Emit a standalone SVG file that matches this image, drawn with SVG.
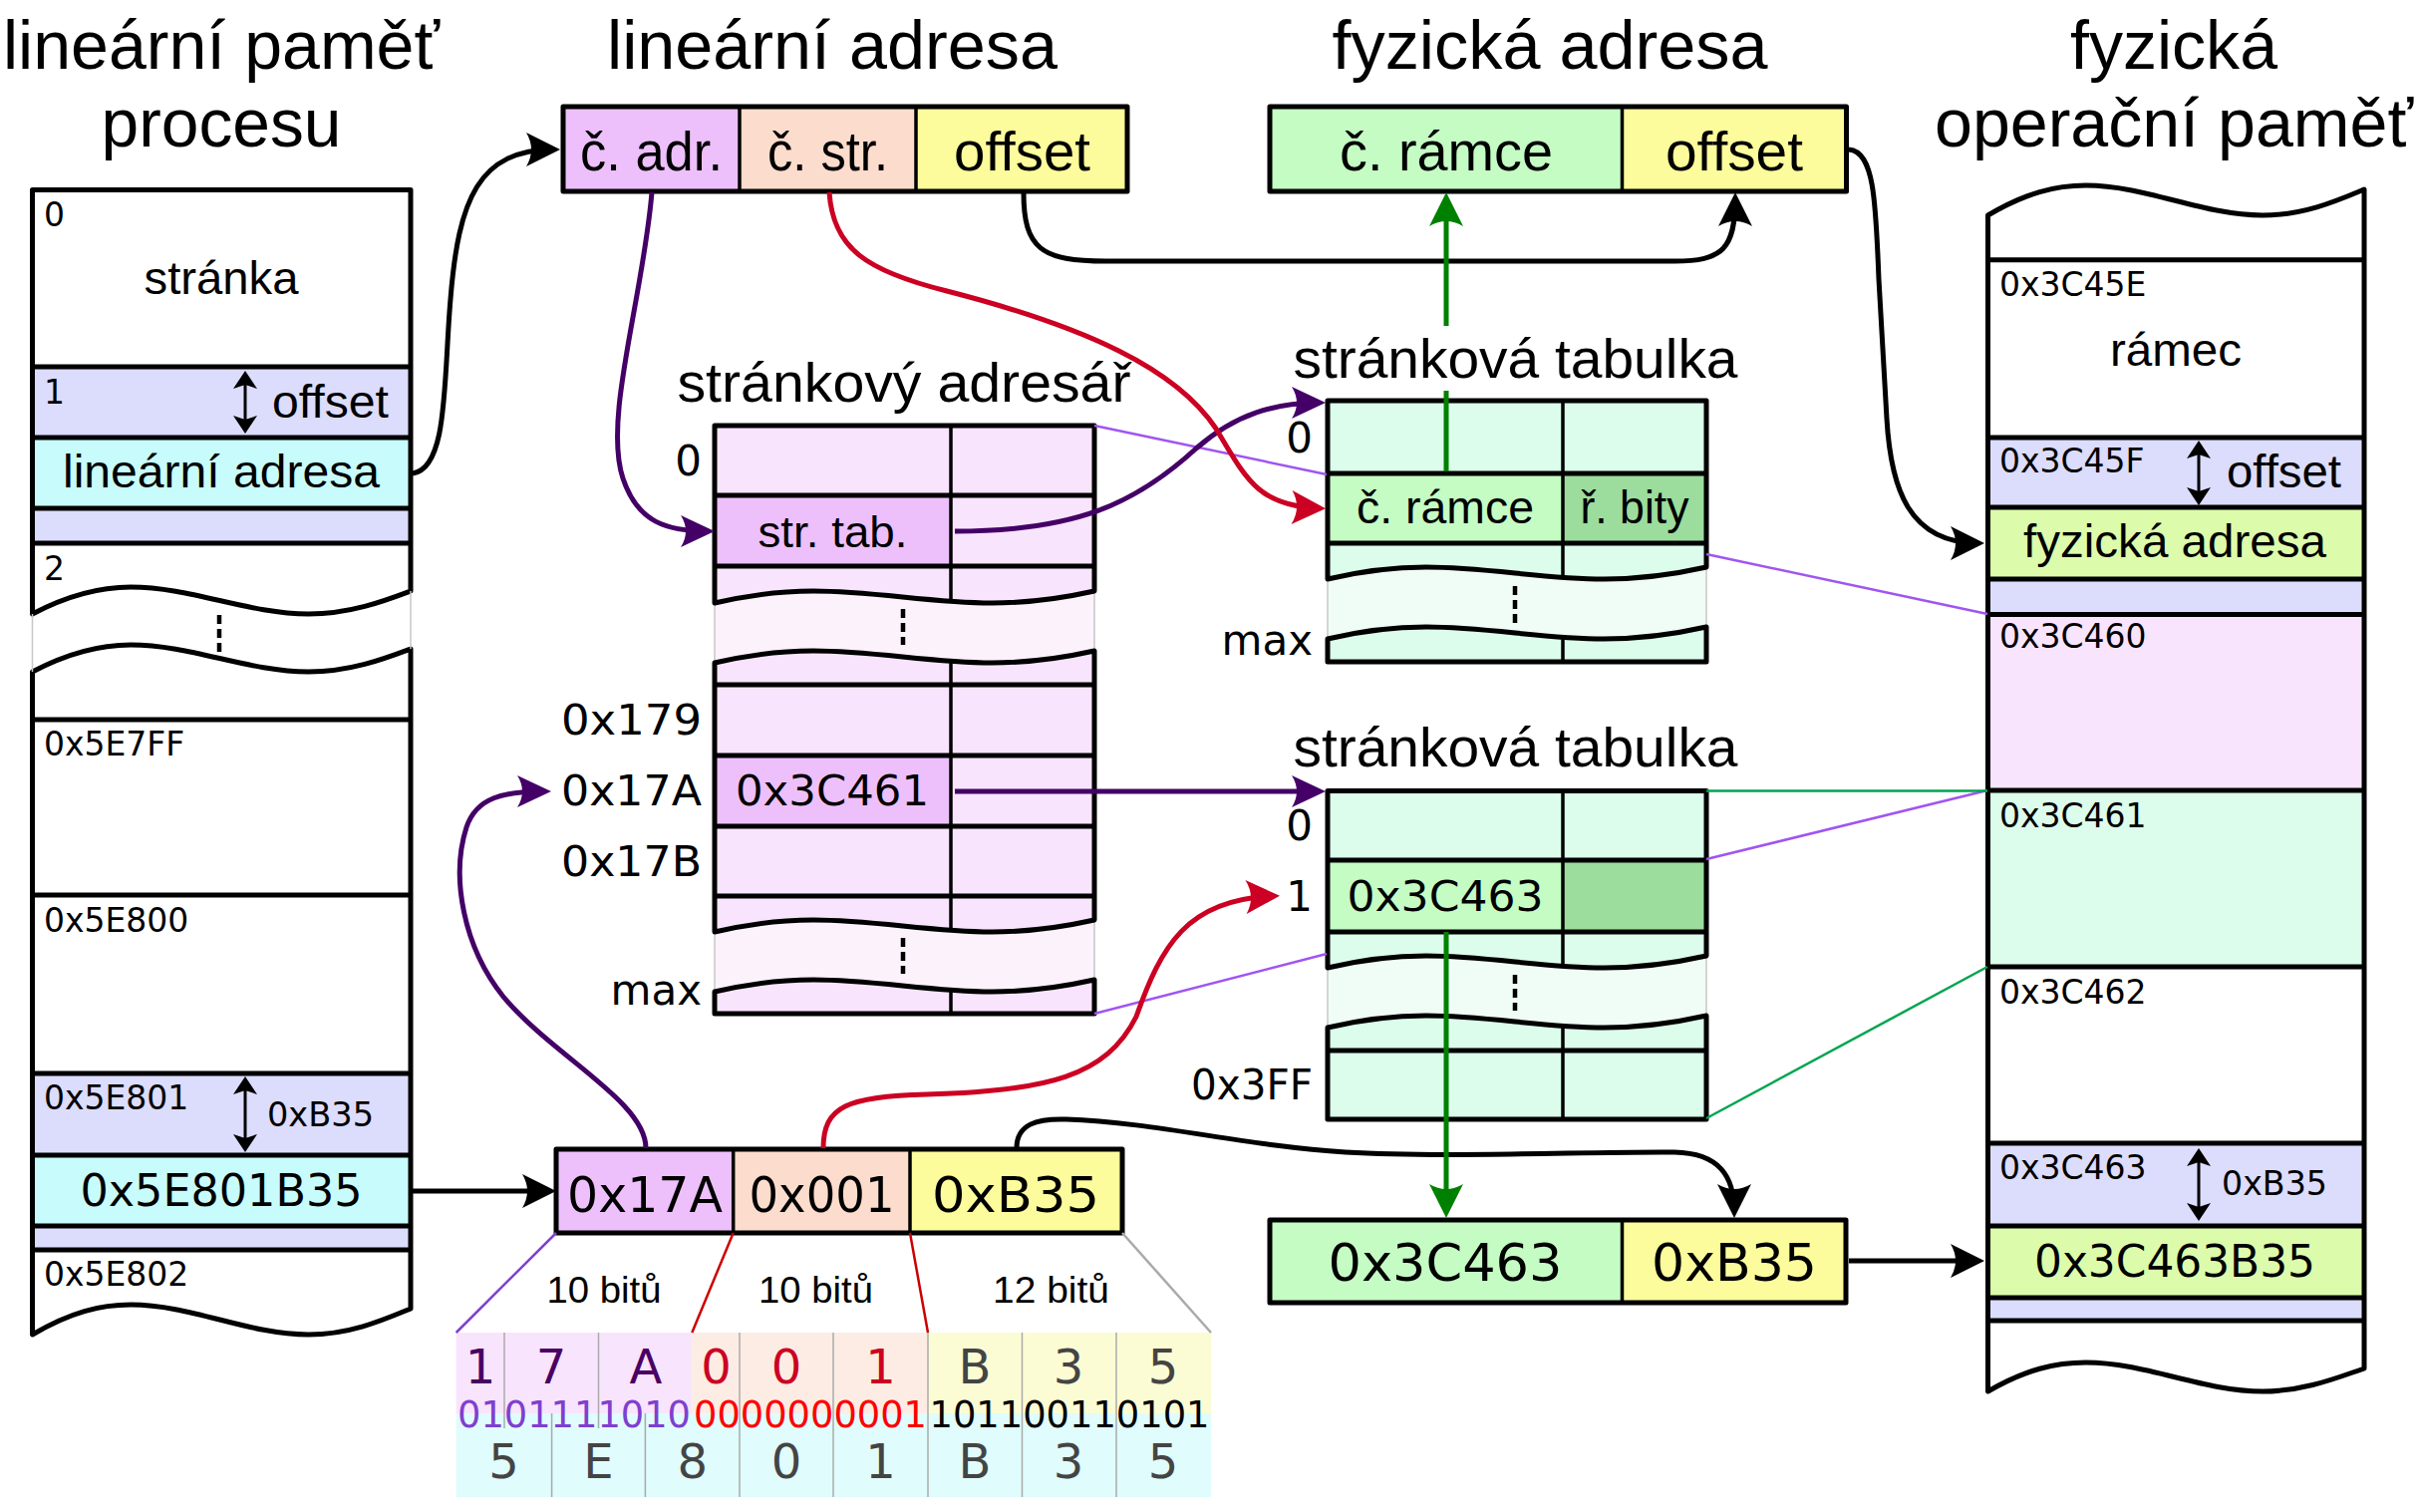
<svg xmlns="http://www.w3.org/2000/svg" width="2429" height="1517" viewBox="0 0 2429 1517">
<defs>
<style>
.s{font-family:"Liberation Sans",Arial,sans-serif;fill:#000}
.d{font-family:"DejaVu Sans",Verdana,sans-serif;fill:#000}
.ttl{font-size:68px;text-anchor:middle}
.sub{font-size:56px;text-anchor:middle}
.c{text-anchor:middle}
.e{text-anchor:end}
.lbl{font-size:33px}
.idx{font-size:42px}
.box{fill:none;stroke:#000;stroke-width:5;stroke-linejoin:round}
.row{stroke:#000;stroke-width:5;fill:none}
.dv{stroke:#000;stroke-width:3.5;fill:none}
.gs{stroke:#c8c8c8;stroke-width:1.5;fill:none}
.dots{stroke:#000;stroke-width:4.5;stroke-dasharray:9 5;fill:none}
.cn{fill:none;stroke-width:5}
.thin{fill:none;stroke-width:2.5}
.sep{stroke:#aaa;stroke-width:1.5;fill:none}
</style>
<marker id="mk" markerUnits="userSpaceOnUse" orient="auto" overflow="visible" markerWidth="40" markerHeight="40"><path d="M6 0 L-28 -17 Q-18 0 -28 17 Z" fill="#000"/></marker>
<marker id="mp" markerUnits="userSpaceOnUse" orient="auto" overflow="visible" markerWidth="40" markerHeight="40"><path d="M6 0 L-28 -16 Q-18 0 -28 16 Z" fill="#440066"/></marker>
<marker id="mr" markerUnits="userSpaceOnUse" orient="auto" overflow="visible" markerWidth="40" markerHeight="40"><path d="M6 0 L-28 -17 Q-18 0 -28 17 Z" fill="#cc0022"/></marker>
<marker id="mg" markerUnits="userSpaceOnUse" orient="auto" overflow="visible" markerWidth="40" markerHeight="40"><path d="M6 0 L-28 -17 Q-18 0 -28 17 Z" fill="#008000"/></marker>
</defs>
<rect width="2429" height="1517" fill="#fff"/>

<!-- titles -->
<g id="title-linear-memory">
<text class="s ttl" x="222" y="69" textLength="438" lengthAdjust="spacingAndGlyphs">lineární paměť</text>
<text class="s ttl" x="222" y="147" textLength="241" lengthAdjust="spacingAndGlyphs">procesu</text>
</g>
<g id="title-linear-address"><text class="s ttl" x="835" y="69" textLength="452" lengthAdjust="spacingAndGlyphs">lineární adresa</text></g>
<g id="title-physical-address"><text class="s ttl" x="1555" y="69" textLength="437" lengthAdjust="spacingAndGlyphs">fyzická adresa</text></g>
<g id="title-physical-memory">
<text class="s ttl" x="2181" y="69" textLength="208" lengthAdjust="spacingAndGlyphs">fyzická</text>
<text class="s ttl" x="2181" y="147" textLength="480" lengthAdjust="spacingAndGlyphs">operační paměť</text>
</g>

<!-- linear memory of process -->
<g id="linear-memory">
<path fill="#fff" d="M32.5 190.5 L412 190.5 L412 593 C385.4 603 351.3 616 309.5 616 C248.8 616 191.9 589 131.2 589 C100.8 589 70.5 596 32.5 616 Z"/>
<path fill="#fff" d="M32.5 674 C70.5 654 100.8 647 131.2 647 C191.9 647 248.8 674 309.5 674 C351.3 674 385.4 661 412 651 L412 1313 C385.4 1324 351.3 1339 309.5 1339 C248.8 1339 191.9 1309 131.2 1309 C100.8 1309 70.5 1316.5 32.5 1339 Z"/>
<rect x="32.5" y="368" width="379.5" height="71" fill="#dcdcfc"/>
<rect x="32.5" y="439" width="379.5" height="71" fill="#c8fcfc"/>
<rect x="32.5" y="510" width="379.5" height="35" fill="#dcdcfc"/>
<rect x="32.5" y="1077" width="379.5" height="82" fill="#dcdcfc"/>
<rect x="32.5" y="1159" width="379.5" height="71" fill="#c8fcfc"/>
<rect x="32.5" y="1230" width="379.5" height="24" fill="#dcdcfc"/>
<path class="row" d="M32.5 368H412M32.5 439H412M32.5 510H412M32.5 545H412M32.5 722H412M32.5 898H412M32.5 1077H412M32.5 1159H412M32.5 1230H412M32.5 1254H412"/>
<path class="box" d="M32.5 190.5 L412 190.5 L412 593 C385.4 603 351.3 616 309.5 616 C248.8 616 191.9 589 131.2 589 C100.8 589 70.5 596 32.5 616 Z"/>
<path class="box" d="M32.5 674 C70.5 654 100.8 647 131.2 647 C191.9 647 248.8 674 309.5 674 C351.3 674 385.4 661 412 651 L412 1313 C385.4 1324 351.3 1339 309.5 1339 C248.8 1339 191.9 1309 131.2 1309 C100.8 1309 70.5 1316.5 32.5 1339 Z"/>
<path class="gs" d="M32.5 616V674M412 593V651"/>
<line class="dots" x1="220" y1="617" x2="220" y2="655"/>
<text class="d lbl" x="44" y="227">0</text>
<text class="s c" x="222" y="295" font-size="47" textLength="155" lengthAdjust="spacingAndGlyphs">stránka</text>
<text class="d lbl" x="44" y="405">1</text>
<path d="M246 386V421" stroke="#000" stroke-width="3"/>
<path d="M246 372 L234 390 L246 386 L258 390 Z M246 435 L234 417 L246 421 L258 417 Z"/>
<text class="s" x="273" y="419" font-size="47" textLength="117" lengthAdjust="spacingAndGlyphs">offset</text>
<text class="s c" x="222" y="489" font-size="47" textLength="318" lengthAdjust="spacingAndGlyphs">lineární adresa</text>
<text class="d lbl" x="44" y="582">2</text>
<text class="d lbl" x="44" y="758">0x5E7FF</text>
<text class="d lbl" x="44" y="935">0x5E800</text>
<text class="d lbl" x="44" y="1113">0x5E801</text>
<path d="M246 1094V1142" stroke="#000" stroke-width="3"/>
<path d="M246 1080 L234 1098 L246 1094 L258 1098 Z M246 1156 L234 1138 L246 1142 L258 1138 Z"/>
<text class="d lbl" x="268" y="1130" textLength="107" lengthAdjust="spacingAndGlyphs">0xB35</text>
<text class="d c" x="222" y="1210" font-size="44" textLength="283" lengthAdjust="spacingAndGlyphs">0x5E801B35</text>
<text class="d lbl" x="44" y="1290">0x5E802</text>
</g>

<!-- linear address field names -->
<g id="linear-address-fields">
<rect x="565" y="107" width="177" height="85" fill="#edc0fc"/>
<rect x="742" y="107" width="177" height="85" fill="#fcdccc"/>
<rect x="919" y="107" width="212" height="85" fill="#fcfc9c"/>
<path class="dv" d="M742 107V192M919 107V192"/>
<rect class="box" x="565" y="107" width="566" height="85"/>
<text class="s c" x="653.5" y="171" font-size="55" textLength="143" lengthAdjust="spacingAndGlyphs">č. adr.</text>
<text class="s c" x="830.5" y="171" font-size="55" textLength="121" lengthAdjust="spacingAndGlyphs">č. str.</text>
<text class="s c" x="1025.5" y="171" font-size="55" textLength="137" lengthAdjust="spacingAndGlyphs">offset</text>
</g>

<!-- physical address field names -->
<g id="physical-address-fields">
<rect x="1274" y="107" width="353.5" height="85" fill="#c4fcc4"/>
<rect x="1627.5" y="107" width="225" height="85" fill="#fcfc9c"/>
<path class="dv" d="M1627.5 107V192"/>
<rect class="box" x="1274" y="107" width="578.5" height="85"/>
<text class="s c" x="1451" y="171" font-size="55" textLength="214" lengthAdjust="spacingAndGlyphs">č. rámce</text>
<text class="s c" x="1740" y="171" font-size="55" textLength="138" lengthAdjust="spacingAndGlyphs">offset</text>
</g>

<!-- page directory -->
<g id="page-directory">
<text class="s sub" x="907" y="403" textLength="455" lengthAdjust="spacingAndGlyphs">stránkový adresář</text>
<path fill="#f8e4fc" d="M717 427 L1098 427 L1098 593 C1071.3 599 1037 605 995.1 605 C934.2 605 877 593 816.1 593 C785.6 593 755.1 596 717 605 Z"/>
<path fill="#f8e4fc" d="M717 665 C755.1 656 785.6 653 816.1 653 C877 653 934.2 665 995.1 665 C1037 665 1071.3 659 1098 653 L1098 923 C1071.3 929 1037 935 995.1 935 C934.2 935 877 923 816.1 923 C785.6 923 755.1 926 717 935 Z"/>
<path fill="#f8e4fc" d="M717 995 C755.1 986 785.6 983 816.1 983 C877 983 934.2 995 995.1 995 C1037 995 1071.3 989 1098 983 L1098 1017 L717 1017 Z"/>
<rect x="717" y="497" width="237" height="71" fill="#edc0fc"/>
<rect x="717" y="758" width="237" height="71" fill="#edc0fc"/>
<path class="row" d="M717 497H1098M717 568H1098M717 687H1098M717 758H1098M717 829H1098M717 899H1098"/>
<path class="dv" d="M954 427V1017"/>
<path fill="#fcf2fc" d="M717 605 C755.1 596 785.6 593 816.1 593 C877 593 934.2 605 995.1 605 C1037 605 1071.3 599 1098 593 L1098 653 C1071.3 659 1037 665 995.1 665 C934.2 665 877 653 816.1 653 C785.6 653 755.1 656 717 665 Z"/>
<path fill="#fcf2fc" d="M717 935 C755.1 926 785.6 923 816.1 923 C877 923 934.2 935 995.1 935 C1037 935 1071.3 929 1098 923 L1098 983 C1071.3 989 1037 995 995.1 995 C934.2 995 877 983 816.1 983 C785.6 983 755.1 986 717 995 Z"/>
<path class="gs" d="M717 605V665M1098 593V653M717 935V995M1098 923V983"/>
<path class="box" stroke-width="4.5" d="M717 427 L1098 427 L1098 593 C1071.3 599 1037 605 995.1 605 C934.2 605 877 593 816.1 593 C785.6 593 755.1 596 717 605 Z"/>
<path class="box" stroke-width="4.5" d="M717 665 C755.1 656 785.6 653 816.1 653 C877 653 934.2 665 995.1 665 C1037 665 1071.3 659 1098 653 L1098 923 C1071.3 929 1037 935 995.1 935 C934.2 935 877 923 816.1 923 C785.6 923 755.1 926 717 935 Z"/>
<path class="box" stroke-width="4.5" d="M717 995 C755.1 986 785.6 983 816.1 983 C877 983 934.2 995 995.1 995 C1037 995 1071.3 989 1098 983 L1098 1017 L717 1017 Z"/>
<line class="dots" x1="906" y1="611" x2="906" y2="647"/>
<line class="dots" x1="906" y1="941" x2="906" y2="977"/>
<text class="d idx e" x="704" y="477">0</text>
<text class="d idx e" x="704" y="737" textLength="141" lengthAdjust="spacingAndGlyphs">0x179</text>
<text class="d idx e" x="704" y="808" textLength="141" lengthAdjust="spacingAndGlyphs">0x17A</text>
<text class="d idx e" x="704" y="879" textLength="141" lengthAdjust="spacingAndGlyphs">0x17B</text>
<text class="d idx e" x="704" y="1008">max</text>
<text class="s c" x="835.5" y="549" font-size="44" textLength="150" lengthAdjust="spacingAndGlyphs">str. tab.</text>
<text class="d c" x="835" y="808" font-size="43" textLength="194" lengthAdjust="spacingAndGlyphs">0x3C461</text>
</g>

<!-- page table 1 -->
<g id="page-table-1">
<text class="s sub" x="1520.5" y="379" textLength="446" lengthAdjust="spacingAndGlyphs">stránková tabulka</text>
<path fill="#dcfcec" d="M1332 402 L1712 402 L1712 569 C1685.4 575 1651.2 581 1609.4 581 C1548.6 581 1491.6 569 1430.8 569 C1400.4 569 1370 572 1332 581 Z"/>
<path fill="#dcfcec" d="M1332 641 C1370 632 1400.4 629 1430.8 629 C1491.6 629 1548.6 641 1609.4 641 C1651.2 641 1685.4 635 1712 629 L1712 664 L1332 664 Z"/>
<rect x="1332" y="475" width="236" height="70" fill="#c4fcc4"/>
<rect x="1568" y="475" width="144" height="70" fill="#9cdc9c"/>
<path class="row" d="M1332 475H1712M1332 545H1712"/>
<path class="dv" d="M1568 402V664"/>
<path fill="#f0fcf6" d="M1332 581 C1370 572 1400.4 569 1430.8 569 C1491.6 569 1548.6 581 1609.4 581 C1651.2 581 1685.4 575 1712 569 L1712 629 C1685.4 635 1651.2 641 1609.4 641 C1548.6 641 1491.6 629 1430.8 629 C1400.4 629 1370 632 1332 641 Z"/>
<path class="gs" d="M1332 581V641M1712 569V629"/>
<path class="box" stroke-width="4.5" d="M1332 402 L1712 402 L1712 569 C1685.4 575 1651.2 581 1609.4 581 C1548.6 581 1491.6 569 1430.8 569 C1400.4 569 1370 572 1332 581 Z"/>
<path class="box" stroke-width="4.5" d="M1332 641 C1370 632 1400.4 629 1430.8 629 C1491.6 629 1548.6 641 1609.4 641 C1651.2 641 1685.4 635 1712 629 L1712 664 L1332 664 Z"/>
<line class="dots" x1="1520" y1="588" x2="1520" y2="625"/>
<text class="d idx e" x="1317" y="454">0</text>
<text class="d idx e" x="1317" y="657">max</text>
<text class="s c" x="1450" y="525" font-size="46" textLength="178" lengthAdjust="spacingAndGlyphs">č. rámce</text>
<text class="s c" x="1640" y="525" font-size="46" textLength="109" lengthAdjust="spacingAndGlyphs">ř. bity</text>
</g>

<!-- page table 2 -->
<g id="page-table-2">
<text class="s sub" x="1520.5" y="769" textLength="446" lengthAdjust="spacingAndGlyphs">stránková tabulka</text>
<path fill="#dcfcec" d="M1332 793.5 L1712 793.5 L1712 959 C1685.4 965 1651.2 971 1609.4 971 C1548.6 971 1491.6 959 1430.8 959 C1400.4 959 1370 962 1332 971 Z"/>
<path fill="#dcfcec" d="M1332 1031 C1370 1022 1400.4 1019 1430.8 1019 C1491.6 1019 1548.6 1031 1609.4 1031 C1651.2 1031 1685.4 1025 1712 1019 L1712 1123 L1332 1123 Z"/>
<rect x="1332" y="863" width="236" height="72" fill="#c4fcc4"/>
<rect x="1568" y="863" width="144" height="72" fill="#9cdc9c"/>
<path class="row" d="M1332 863H1712M1332 935H1712M1332 1054H1712"/>
<path class="dv" d="M1568 793.5V1123"/>
<path fill="#f0fcf6" d="M1332 971 C1370 962 1400.4 959 1430.8 959 C1491.6 959 1548.6 971 1609.4 971 C1651.2 971 1685.4 965 1712 959 L1712 1019 C1685.4 1025 1651.2 1031 1609.4 1031 C1548.6 1031 1491.6 1019 1430.8 1019 C1400.4 1019 1370 1022 1332 1031 Z"/>
<path class="gs" d="M1332 971V1031M1712 959V1019"/>
<path class="box" stroke-width="4.5" d="M1332 793.5 L1712 793.5 L1712 959 C1685.4 965 1651.2 971 1609.4 971 C1548.6 971 1491.6 959 1430.8 959 C1400.4 959 1370 962 1332 971 Z"/>
<path class="box" stroke-width="4.5" d="M1332 1031 C1370 1022 1400.4 1019 1430.8 1019 C1491.6 1019 1548.6 1031 1609.4 1031 C1651.2 1031 1685.4 1025 1712 1019 L1712 1123 L1332 1123 Z"/>
<line class="dots" x1="1520" y1="978" x2="1520" y2="1014"/>
<text class="d idx e" x="1317" y="843">0</text>
<text class="d idx e" x="1317" y="914">1</text>
<text class="d idx e" x="1317" y="1103" textLength="122" lengthAdjust="spacingAndGlyphs">0x3FF</text>
<text class="d c" x="1450" y="914" font-size="43" textLength="197" lengthAdjust="spacingAndGlyphs">0x3C463</text>
</g>

<!-- linear address value -->
<g id="linear-address-value">
<rect x="558" y="1153" width="177.7" height="84" fill="#edc0fc"/>
<rect x="735.7" y="1153" width="177.3" height="84" fill="#fcdccc"/>
<rect x="913" y="1153" width="213" height="84" fill="#fcfc9c"/>
<path class="dv" d="M735.7 1153V1237M913 1153V1237"/>
<rect class="box" x="558" y="1153" width="568" height="84"/>
<text class="d c" x="647" y="1216" font-size="50" textLength="156" lengthAdjust="spacingAndGlyphs">0x17A</text>
<text class="d c" x="824.5" y="1216" font-size="50" textLength="146" lengthAdjust="spacingAndGlyphs">0x001</text>
<text class="d c" x="1019" y="1216" font-size="50" textLength="168" lengthAdjust="spacingAndGlyphs">0xB35</text>
</g>

<!-- bit breakdown -->
<g id="bit-breakdown">
<rect x="457.7" y="1337" width="236.6" height="81" fill="#f8e4fc"/>
<rect x="694.3" y="1337" width="236.7" height="81" fill="#fcece4"/>
<rect x="931" y="1337" width="284" height="81" fill="#fcfcd4"/>
<rect x="457.7" y="1418" width="757.3" height="84" fill="#e0fcfc"/>
<path class="sep" d="M506 1337V1433M600.5 1337V1433M553.6 1418V1502M647.4 1418V1502M742 1337V1502M836 1337V1502M931 1337V1502M1025.5 1337V1502M1120 1337V1502"/>
<text class="s c" x="606" y="1307" font-size="37" textLength="115" lengthAdjust="spacingAndGlyphs">10 bitů</text>
<text class="s c" x="818.5" y="1307" font-size="37" textLength="115" lengthAdjust="spacingAndGlyphs">10 bitů</text>
<text class="s c" x="1054.5" y="1307" font-size="37" textLength="117" lengthAdjust="spacingAndGlyphs">12 bitů</text>
<g class="d c" font-size="48">
<text x="482" y="1388" style="fill:#4a0063">1</text>
<text x="553" y="1388" style="fill:#4a0063">7</text>
<text x="648" y="1388" style="fill:#4a0063">A</text>
<text x="718.5" y="1388" style="fill:#cc0022">0</text>
<text x="789" y="1388" style="fill:#cc0022">0</text>
<text x="883.5" y="1388" style="fill:#cc0022">1</text>
<text x="978" y="1388" style="fill:#444">B</text>
<text x="1072" y="1388" style="fill:#444">3</text>
<text x="1167" y="1388" style="fill:#444">5</text>
<text x="505.6" y="1483" style="fill:#444">5</text>
<text x="600.5" y="1483" style="fill:#444">E</text>
<text x="694.7" y="1483" style="fill:#444">8</text>
<text x="789" y="1483" style="fill:#444">0</text>
<text x="883.5" y="1483" style="fill:#444">1</text>
<text x="978" y="1483" style="fill:#444">B</text>
<text x="1072" y="1483" style="fill:#444">3</text>
<text x="1167" y="1483" style="fill:#444">5</text>
</g>
<text class="d" x="459" y="1432" font-size="37" style="fill:#7f3fcf" textLength="234" lengthAdjust="spacingAndGlyphs">0101111010</text>
<text class="d" x="696" y="1432" font-size="37" style="fill:#ff0000" textLength="234" lengthAdjust="spacingAndGlyphs">0000000001</text>
<text class="d" x="932.5" y="1432" font-size="37" textLength="281" lengthAdjust="spacingAndGlyphs">101100110101</text>
</g>

<!-- physical address value -->
<g id="physical-address-value">
<rect x="1274" y="1224" width="353.5" height="83" fill="#c4fcc4"/>
<rect x="1627.5" y="1224" width="224.5" height="83" fill="#fcfc9c"/>
<path class="dv" d="M1627.5 1224V1307"/>
<rect class="box" x="1274" y="1224" width="578" height="83"/>
<text class="d c" x="1450" y="1285" font-size="52" textLength="235" lengthAdjust="spacingAndGlyphs">0x3C463</text>
<text class="d c" x="1740" y="1285" font-size="52" textLength="166" lengthAdjust="spacingAndGlyphs">0xB35</text>
</g>

<!-- physical memory -->
<g id="physical-memory">
<path fill="#fff" d="M1994.5 216 C2032.3 193.5 2062.5 186 2092.7 186 C2153 186 2209.7 216 2270.1 216 C2311.6 216 2345.6 201 2372 190 L2372 1373 C2345.6 1382 2311.6 1396 2270.1 1396 C2209.7 1396 2153 1367 2092.7 1367 C2062.5 1367 2032.3 1374 1994.5 1396 Z"/>
<rect x="1994.5" y="439" width="377.5" height="70" fill="#dcdcfc"/>
<rect x="1994.5" y="509" width="377.5" height="72" fill="#dcfcac"/>
<rect x="1994.5" y="581" width="377.5" height="35.5" fill="#dcdcfc"/>
<rect x="1994.5" y="616.5" width="377.5" height="176.5" fill="#f8e4fc"/>
<rect x="1994.5" y="793" width="377.5" height="177" fill="#dcfcec"/>
<rect x="1994.5" y="1147" width="377.5" height="83" fill="#dcdcfc"/>
<rect x="1994.5" y="1230" width="377.5" height="72" fill="#dcfcac"/>
<rect x="1994.5" y="1302" width="377.5" height="23" fill="#dcdcfc"/>
<path class="row" d="M1994.5 260.7H2372M1994.5 439H2372M1994.5 509H2372M1994.5 581H2372M1994.5 616.5H2372M1994.5 793H2372M1994.5 970H2372M1994.5 1147H2372M1994.5 1230H2372M1994.5 1302H2372M1994.5 1325H2372"/>
<path class="box" d="M1994.5 216 C2032.3 193.5 2062.5 186 2092.7 186 C2153 186 2209.7 216 2270.1 216 C2311.6 216 2345.6 201 2372 190 L2372 1373 C2345.6 1382 2311.6 1396 2270.1 1396 C2209.7 1396 2153 1367 2092.7 1367 C2062.5 1367 2032.3 1374 1994.5 1396 Z"/>
<text class="d lbl" x="2006" y="297">0x3C45E</text>
<text class="s c" x="2183" y="367" font-size="47" textLength="132" lengthAdjust="spacingAndGlyphs">rámec</text>
<text class="d lbl" x="2006" y="474">0x3C45F</text>
<path d="M2206 456V493" stroke="#000" stroke-width="3"/>
<path d="M2206 442 L2194 460 L2206 456 L2218 460 Z M2206 507 L2194 489 L2206 493 L2218 489 Z"/>
<text class="s" x="2234" y="489" font-size="47" textLength="115" lengthAdjust="spacingAndGlyphs">offset</text>
<text class="s c" x="2182" y="559" font-size="47" textLength="304" lengthAdjust="spacingAndGlyphs">fyzická adresa</text>
<text class="d lbl" x="2006" y="650">0x3C460</text>
<text class="d lbl" x="2006" y="830">0x3C461</text>
<text class="d lbl" x="2006" y="1007">0x3C462</text>
<text class="d lbl" x="2006" y="1183">0x3C463</text>
<path d="M2206 1166V1211" stroke="#000" stroke-width="3"/>
<path d="M2206 1152 L2194 1170 L2206 1166 L2218 1170 Z M2206 1225 L2194 1207 L2206 1211 L2218 1207 Z"/>
<text class="d lbl" x="2229" y="1199" textLength="106" lengthAdjust="spacingAndGlyphs">0xB35</text>
<text class="d c" x="2182" y="1281" font-size="44" textLength="282" lengthAdjust="spacingAndGlyphs">0x3C463B35</text>
</g>

<!-- connectors -->
<g id="connectors">
<path class="thin" stroke="#a055f0" d="M1098 427 L1331 476 M1712 556 L1994 616 M1098 1017 L1331 957 M1712 862 L1994 793"/>
<path class="thin" stroke="#00a550" d="M1712 793.5 L1994 793.5 M1712 1122 L1994 970"/>
<path class="thin" stroke="#7f3fcf" d="M558 1237 L457.7 1337"/>
<path class="thin" stroke="#cc0000" d="M735.7 1237 L694.3 1337 M913 1237 L931 1337"/>
<path class="thin" stroke="#aaaaaa" d="M1126 1237 L1215 1337"/>

<path class="cn" stroke="#000" marker-end="url(#mk)" d="M414 475 C450 470 445 380 452 300 C460 200 480 150 556 150"/>
<path class="cn" stroke="#000" marker-end="url(#mk)" d="M414 1195 H552"/>
<path class="cn" stroke="#000" marker-end="url(#mk)" d="M1027 193 C1027 250 1045 262 1110 262 L1680 262 C1728 262 1741 250 1741 199"/>
<path class="cn" stroke="#000" stroke-width="4" marker-end="url(#mk)" d="M1855 150 C1880 152 1882 200 1885 280 L1893 420 C1897 490 1915 545 1985 545"/>
<path class="cn" stroke="#000" marker-end="url(#mk)" d="M1020 1152 C1020 1128 1040 1122 1070 1123 C1160 1126 1250 1150 1350 1156 C1450 1162 1600 1155 1680 1156 C1725 1157 1740 1180 1740 1216"/>
<path class="cn" stroke="#000" marker-end="url(#mk)" d="M1855 1265 H1985"/>

<path class="cn" stroke="#440066" marker-end="url(#mp)" d="M654 193 C645 300 605 420 625 480 C640 525 670 533 711 533"/>
<path class="cn" stroke="#440066" marker-end="url(#mp)" d="M958 533 C1080 533 1140 505 1200 450 C1240 415 1280 404 1324 404"/>
<path class="cn" stroke="#440066" marker-end="url(#mp)" d="M958 794 H1324"/>
<path class="cn" stroke="#440066" marker-end="url(#mp)" d="M648 1152 C648 1105 555 1060 505 1000 C465 950 452 880 468 830 C478 800 505 794 547 794"/>

<path class="cn" stroke="#cc0022" marker-end="url(#mr)" d="M832 193 C836 250 870 272 950 292 C1090 328 1180 370 1220 430 C1250 480 1262 508 1324 510"/>
<path class="cn" stroke="#cc0022" marker-end="url(#mr)" d="M826 1152 C826 1110 850 1100 930 1098 C1050 1095 1110 1080 1140 1020 C1165 950 1190 902 1278 899"/>

<path class="cn" stroke="#008000" d="M1451 473 V392"/>
<path class="cn" stroke="#008000" marker-end="url(#mg)" d="M1451 327 V199"/>
<path class="cn" stroke="#008000" marker-end="url(#mg)" d="M1451 935 V1216"/>
</g>
</svg>
